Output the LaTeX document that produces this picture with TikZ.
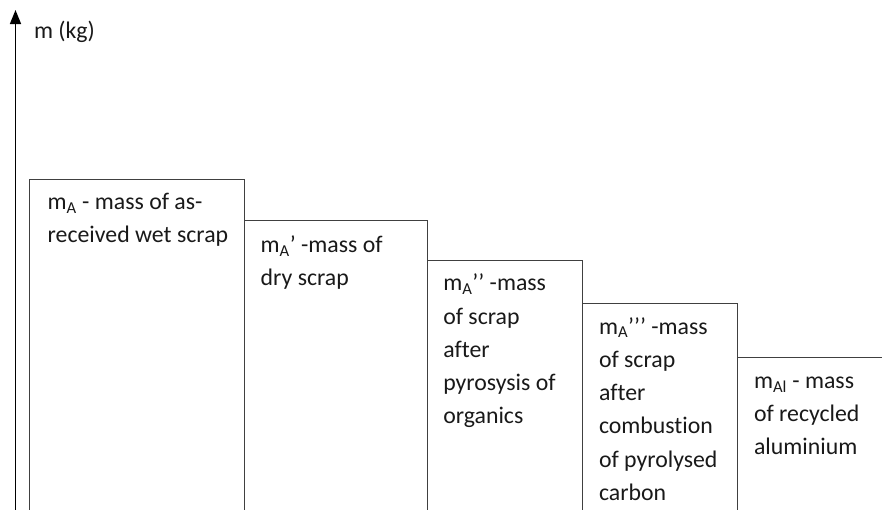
\documentclass[tikz,border=0pt]{standalone}
\usepackage{fontspec}
\setmainfont{Carlito}[Ligatures={NoCommon}]
\usetikzlibrary{arrows.meta}
\begin{document}
\begin{tikzpicture}[x=1pt,y=-1pt,
  massbox/.style={draw=black!75, line width=0.9pt, minimum width=#1, minimum height=400pt,
    anchor=north west, inner sep=0pt, outer sep=0pt},
  lbl/.style={anchor=base west, inner sep=0pt, outer sep=0pt, text=black!90,
    font=\fontsize{23.8}{33.3}\selectfont},
  axisline/.style={line width=1.5pt, -{Triangle[length=14pt,width=11pt]}}]
\useasboundingbox (0,0) rectangle (882,509);
\clip (0,0) rectangle (882,509);
% boxes
\node[massbox=214.7pt] (bA) at (29.3,179) {};
\node[massbox=183.3pt] (bB) at (244,220) {};
\node[massbox=155pt] (bC) at (427.3,260.5) {};
\node[massbox=155pt] (bD) at (582.3,303.3) {};
\node[massbox=200pt] (bE) at (737.3,357.3) {};
% axis
\coordinate (ax0) at (15.5,515);
\coordinate (ax1) at (15.5,10);
\draw[axisline] (ax0) -- (ax1);
\node[lbl] (ylab) at (34,38) {m (kg)};
% texts
\node[lbl] (tA) at (47.7,209.5) {\parbox[t]{300pt}{\raggedright m\textsubscript{A} - mass of as-\\received wet scrap}};
\node[lbl] (tB) at (260.7,252.5) {\parbox[t]{300pt}{\raggedright m\textsubscript{A}’ -mass of\\dry scrap}};
\node[lbl] (tC) at (443.3,290.7) {\parbox[t]{300pt}{\raggedright m\textsubscript{A}’’ -mass\\of scrap\\after\\pyrosysis of\\organics}};
\node[lbl] (tD) at (599,334) {\parbox[t]{300pt}{\raggedright m\textsubscript{A}’’’ -mass\\of scrap\\after\\combustion\\of pyrolysed\\carbon}};
\node[lbl] (tE) at (754,388.3) {\parbox[t]{300pt}{\raggedright m\textsubscript{Al} - mass\\of recycled\\aluminium}};
\end{tikzpicture}
\end{document}
